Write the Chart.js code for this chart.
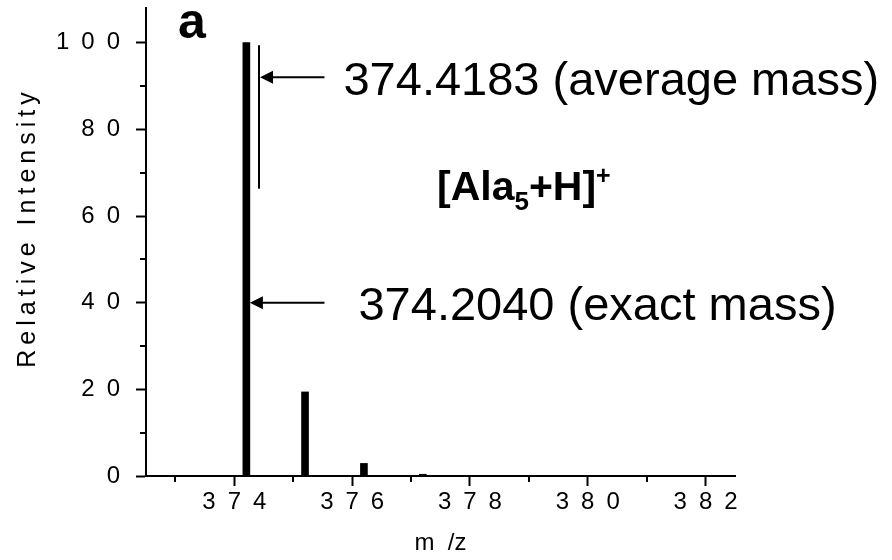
<!DOCTYPE html>
<html>
<head>
<meta charset="utf-8">
<title>[Ala5+H]+</title>
<script src="https://cdn.jsdelivr.net/npm/chart.js@4.4.1/dist/chart.umd.min.js"></script>
<style>
    html, body { margin: 0; padding: 0; background: #fff; }
</style>
</head>
<body>
<canvas id="spectrumChart" width="892" height="560"></canvas>
<script>
// isotope peaks of [Ala5+H]+
const peakMz = [374.2040, 375.2, 376.2, 377.2];
const peakIntensity = [100, 19.4, 2.9, 0.4];

const xTicks = [374, 376, 378, 380, 382];
const xMinorTicks = [373, 375, 377, 379, 381];
const yTicks = [0, 20, 40, 60, 80, 100];
const yMinorTicks = [10, 30, 50, 70, 90];

const exactMass = 374.2040;
const averageMass = 374.4183;
const averageLine = [66.3, 99.4];   // intensity range of the average mass marker
const arrowTailMz = 375.53;
const averageArrowAt = 92;
const exactArrowAt = 40;

const FONT = '"Liberation Sans", Arial, sans-serif';
Chart.defaults.font.family = FONT;
Chart.defaults.color = '#000';

function spaced(value) {
    return String(value).split('').join('\u2002');
}

function drawArrow(ctx, fromX, toX, atY) {
    ctx.beginPath();
    ctx.moveTo(fromX, atY);
    ctx.lineTo(toX + 10, atY);
    ctx.stroke();
    ctx.beginPath();
    ctx.moveTo(toX, atY);
    ctx.lineTo(toX + 13, atY - 6.5);
    ctx.lineTo(toX + 13, atY + 6.5);
    ctx.closePath();
    ctx.fill();
}

const annotations = {
    id: 'annotations',
    afterDraw(chart) {
        const { ctx, scales: { x, y } } = chart;
        ctx.save();
        ctx.strokeStyle = '#000';
        ctx.fillStyle = '#000';
        ctx.lineWidth = 2;

        // minor ticks
        ctx.beginPath();
        xMinorTicks.forEach(v => {
            const px = Math.round(x.getPixelForValue(v));
            ctx.moveTo(px, y.bottom);
            ctx.lineTo(px, y.bottom + 6);
        });
        yMinorTicks.forEach(v => {
            const py = Math.round(y.getPixelForValue(v));
            ctx.moveTo(x.left, py);
            ctx.lineTo(x.left - 6, py);
        });
        ctx.stroke();

        // average mass marker
        const avgX = x.getPixelForValue(averageMass);
        ctx.beginPath();
        ctx.moveTo(avgX, y.getPixelForValue(averageLine[1]));
        ctx.lineTo(avgX, y.getPixelForValue(averageLine[0]));
        ctx.stroke();

        const tailX = x.getPixelForValue(arrowTailMz);
        const avgY = y.getPixelForValue(averageArrowAt);
        const exactY = y.getPixelForValue(exactArrowAt);
        drawArrow(ctx, tailX, avgX + 1, avgY);
        drawArrow(ctx, tailX, x.getPixelForValue(exactMass) + 3.5, exactY);

        ctx.textAlign = 'left';
        ctx.textBaseline = 'alphabetic';
        ctx.font = '47px ' + FONT;
        ctx.fillText(averageMass.toFixed(4) + ' (average mass)', tailX + 19, avgY + 18);
        ctx.fillText(exactMass.toFixed(4) + ' (exact mass)', tailX + 34, exactY + 17);

        // [Ala5+H]+
        let cx = 437;
        const base = 200;
        ctx.font = 'bold 41px ' + FONT;
        ctx.fillText('[Ala', cx, base);
        cx += ctx.measureText('[Ala').width;
        ctx.font = 'bold 26px ' + FONT;
        ctx.fillText('5', cx, base + 10);
        cx += ctx.measureText('5').width;
        ctx.font = 'bold 41px ' + FONT;
        ctx.fillText('+H]', cx, base);
        cx += ctx.measureText('+H]').width;
        ctx.font = 'bold 25px ' + FONT;
        ctx.fillText('+', cx, base - 16);

        // panel letter
        ctx.font = 'bold 50px ' + FONT;
        ctx.fillText('a', 178, 38);

        // y axis title
        ctx.translate(28, 230);
        ctx.rotate(-Math.PI / 2);
        ctx.textAlign = 'center';
        ctx.textBaseline = 'middle';
        ctx.font = '25px ' + FONT;
        ctx.fillText('Relative Intensity'.split('').join('\u2009'), 0, 0);
        ctx.restore();
    }
};

const axisGrid = {
    offset: false,
    drawOnChartArea: false,
    drawTicks: true,
    tickLength: 10,
    tickWidth: 2,
    tickColor: '#000'
};

new Chart(document.getElementById('spectrumChart').getContext('2d'), {
    type: 'bar',
    data: {
        datasets: [{
            data: peakMz.map((mz, i) => ({ x: mz, y: peakIntensity[i] })),
            backgroundColor: '#000',
            borderWidth: 0,
            barThickness: 7
        }]
    },
    options: {
        responsive: false,
        animation: false,
        devicePixelRatio: 1,
        layout: { padding: { top: 8, right: 157, bottom: 0, left: 0 } },
        plugins: {
            legend: { display: false },
            tooltip: { enabled: false }
        },
        scales: {
            x: {
                type: 'linear',
                min: 372.5,
                max: 382.5,
                offset: false,
                afterBuildTicks: scale => { scale.ticks = xTicks.map(v => ({ value: v })); },
                afterFit: scale => {
                    scale.height = 84;
                    scale.paddingLeft = 0;
                    scale.paddingRight = 0;
                },
                grid: axisGrid,
                border: { display: true, color: '#000', width: 2 },
                ticks: {
                    font: { size: 24 },
                    color: '#000',
                    padding: 2,
                    maxRotation: 0,
                    autoSkip: false,
                    callback: value => spaced(value)
                },
                title: {
                    display: true,
                    text: 'm  /z',
                    font: { size: 24 },
                    color: '#000',
                    padding: { top: 0, bottom: 2 }
                }
            },
            y: {
                min: 0,
                max: 108,
                afterBuildTicks: scale => { scale.ticks = yTicks.map(v => ({ value: v })); },
                afterFit: scale => {
                    scale.width = 146;
                    scale.paddingTop = 0;
                    scale.paddingBottom = 0;
                },
                grid: axisGrid,
                border: { display: true, color: '#000', width: 2 },
                ticks: {
                    font: { size: 24 },
                    color: '#000',
                    padding: 16,
                    autoSkip: false,
                    callback: value => spaced(value)
                }
            }
        }
    },
    plugins: [annotations]
});
</script>
</body>
</html>
